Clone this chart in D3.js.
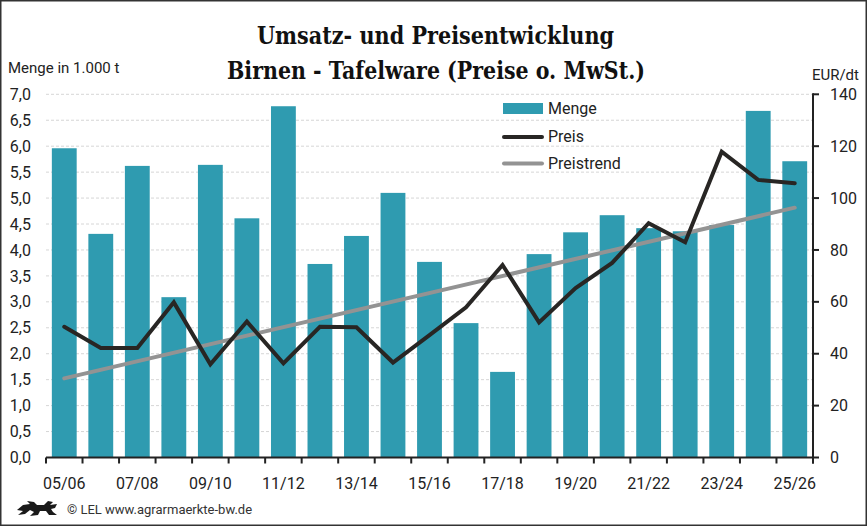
<!DOCTYPE html>
<html>
<head>
<meta charset="utf-8">
<script src="https://cdn.jsdelivr.net/npm/d3@7"></script>
<style>
  html, body { margin: 0; padding: 0; background: #fff; }
  svg { display: block; font-family: Roboto, "Liberation Sans", sans-serif; }
</style>
</head>
<body>
<svg id="chart" width="867" height="526"></svg>
<script>
// Birnen - Tafelware, Menge (1.000 t) und Preis (EUR/dt)
const seasons = ['05/06', '06/07', '07/08', '08/09', '09/10', '10/11', '11/12', '12/13', '13/14', '14/15',
  '15/16', '16/17', '17/18', '18/19', '19/20', '20/21', '21/22', '22/23', '23/24', '24/25', '25/26']
const menge = [5.96, 4.31, 5.62, 3.09, 5.64, 4.61, 6.77, 3.73, 4.27, 5.10,
  3.77, 2.59, 1.65, 3.92, 4.34, 4.67, 4.42, 4.36, 4.48, 6.68, 5.71]
const preis = [50.4, 42.2, 42.2, 59.8, 35.9, 52.4, 36.3, 50.4, 50.2, 36.6,
  47.2, 57.9, 74.2, 52.1, 65.3, 75.0, 90.3, 83.0, 117.9, 107.0, 105.7]
// trend line, read at first and last season
const trendSeasons = ['05/06', '25/26']
const trend = [30.5, 96.3]
const leftTicks = [0, 0.5, 1, 1.5, 2, 2.5, 3, 3.5, 4, 4.5, 5, 5.5, 6, 6.5, 7]
const rightTicks = [0, 20, 40, 60, 80, 100, 120, 140]
const labelSeasons = seasons.filter((d, i) => i % 2 === 0)

const W = 867, H = 526
const pLeft = 46, pRight = 813, pTop = 94.3, pBottom = 457.5

const svg = d3.select('#chart')
const comma = d3.formatLocale({ decimal: ',', thousands: '.', grouping: [3], currency: ['', '€'] }).format('.1f')

const x = d3.scaleBand()
  .domain(seasons)
  .range([pLeft, pRight])
  .paddingInner(0.32)
  .paddingOuter(0.16)
const yL = d3.scaleLinear().domain([0, 7]).range([pBottom, pTop])
const yR = d3.scaleLinear().domain([0, 140]).range([pBottom, pTop])
const cx = d => x(d) + x.bandwidth() / 2

// frame
svg.append('rect')
  .attr('x', 0.75).attr('y', 0.75)
  .attr('width', W - 1.5).attr('height', H - 1.5)
  .attr('fill', 'none').attr('stroke', '#333').attr('stroke-width', 1.5)

// gridlines
svg.append('g')
  .selectAll('line')
  .data(leftTicks.filter(d => d > 0))
  .join('line')
    .attr('x1', pLeft).attr('x2', pRight)
    .attr('y1', d => yL(d)).attr('y2', d => yL(d))
    .attr('stroke', '#d6d6d6')
    .attr('stroke-dasharray', '3,2')

// bars
svg.append('g')
  .selectAll('rect')
  .data(seasons)
  .join('rect')
    .attr('x', d => x(d))
    .attr('width', x.bandwidth())
    .attr('y', (d, i) => yL(menge[i]))
    .attr('height', (d, i) => pBottom - yL(menge[i]))
    .attr('fill', '#2f9bb0')

// trend
const line = d3.line().x(d => cx(d[0])).y(d => yR(d[1]))
svg.append('path')
  .datum(trendSeasons.map((s, i) => [s, trend[i]]))
  .attr('d', line)
  .attr('fill', 'none')
  .attr('stroke', '#939393')
  .attr('stroke-width', 4)
  .attr('stroke-linecap', 'round')

// price
svg.append('path')
  .datum(seasons.map((s, i) => [s, preis[i]]))
  .attr('d', line)
  .attr('fill', 'none')
  .attr('stroke', '#282624')
  .attr('stroke-width', 4)
  .attr('stroke-linejoin', 'miter')
  .attr('stroke-linecap', 'round')

// x axis
const boundaries = seasons.map(d => x(d) - x.step() * x.paddingInner() / 2).concat([pRight])
const xa = svg.append('g')
xa.append('line')
  .attr('x1', pLeft).attr('x2', pRight)
  .attr('y1', pBottom).attr('y2', pBottom)
  .attr('stroke', '#222').attr('stroke-width', 2)
xa.selectAll('.tick')
  .data(boundaries)
  .join('line')
    .attr('class', 'tick')
    .attr('x1', d => d).attr('x2', d => d)
    .attr('y1', pBottom).attr('y2', pBottom + 6)
    .attr('stroke', '#222').attr('stroke-width', 2)
xa.selectAll('text')
  .data(labelSeasons)
  .join('text')
    .attr('x', d => cx(d))
    .attr('y', 489)
    .attr('text-anchor', 'middle')
    .attr('font-size', 16)
    .attr('fill', '#222')
    .text(d => d)

// left axis labels
svg.append('g')
  .selectAll('text')
  .data(leftTicks)
  .join('text')
    .attr('x', 31)
    .attr('y', d => yL(d))
    .attr('dy', '0.35em')
    .attr('text-anchor', 'end')
    .attr('font-size', 16)
    .attr('fill', '#222')
    .text(d => comma(d))

// right axis
const ra = svg.append('g')
ra.append('line')
  .attr('x1', pRight).attr('x2', pRight)
  .attr('y1', pTop - 1).attr('y2', pBottom + 6)
  .attr('stroke', '#222').attr('stroke-width', 2)
ra.selectAll('.tick')
  .data(rightTicks)
  .join('line')
    .attr('class', 'tick')
    .attr('x1', pRight).attr('x2', pRight + 6)
    .attr('y1', d => yR(d)).attr('y2', d => yR(d))
    .attr('stroke', '#222').attr('stroke-width', 2)
ra.selectAll('text')
  .data(rightTicks)
  .join('text')
    .attr('x', 830)
    .attr('y', d => yR(d))
    .attr('dy', '0.35em')
    .attr('font-size', 16)
    .attr('fill', '#222')
    .text(d => d)

// axis titles
svg.append('text')
  .attr('x', 8).attr('y', 73)
  .attr('font-size', 15).attr('fill', '#222')
  .text('Menge in 1.000 t')
svg.append('text')
  .attr('x', 859).attr('y', 80)
  .attr('text-anchor', 'end')
  .attr('font-size', 15).attr('fill', '#222')
  .text('EUR/dt')

// title - tall condensed serif, squeezed to the reference widths
const title = svg.append('g')
  .attr('font-family', '"DejaVu Serif", serif')
  .attr('font-weight', 'bold')
  .attr('font-size', 25)
  .attr('fill', '#111')
title.append('text').attr('x', 257).attr('y', 44)
  .attr('textLength', 357).attr('lengthAdjust', 'spacingAndGlyphs')
  .text('Umsatz- und Preisentwicklung')
title.append('text').attr('x', 227).attr('y', 79)
  .attr('textLength', 418).attr('lengthAdjust', 'spacingAndGlyphs')
  .text('Birnen - Tafelware (Preise o. MwSt.)')

// legend
const legend = svg.append('g').attr('font-size', 16).attr('fill', '#222')
legend.append('rect')
  .attr('x', 503).attr('y', 103).attr('width', 40).attr('height', 11)
  .attr('fill', '#2f9bb0')
legend.append('line')
  .attr('x1', 504).attr('x2', 542).attr('y1', 137).attr('y2', 137)
  .attr('stroke', '#282624').attr('stroke-width', 4).attr('stroke-linecap', 'round')
legend.append('line')
  .attr('x1', 504).attr('x2', 542).attr('y1', 163.5).attr('y2', 163.5)
  .attr('stroke', '#939393').attr('stroke-width', 4).attr('stroke-linecap', 'round')
legend.append('text').attr('x', 548).attr('y', 114).text('Menge')
legend.append('text').attr('x', 548).attr('y', 141.5).text('Preis')
legend.append('text').attr('x', 548).attr('y', 169).text('Preistrend')

// footer
svg.append('path')
  .attr('d', 'M17,510 L23,505 L30,504 L27,501 L34,502 L37,505 L44,505 L48,501 L53,502 L50,505 L57,504 L55,508 L51,509 L53,512 L57,515 L49,515 L46,511 L40,511 L38,515 L30,516 L34,512 L30,510 L25,514 L18,515 L23,511 Z')
  .attr('fill', '#1a1a1a')
svg.append('text')
  .attr('x', 67).attr('y', 514)
  .attr('font-size', 13).attr('fill', '#333')
  .text('© LEL www.agrarmaerkte-bw.de')
</script>
</body>
</html>
